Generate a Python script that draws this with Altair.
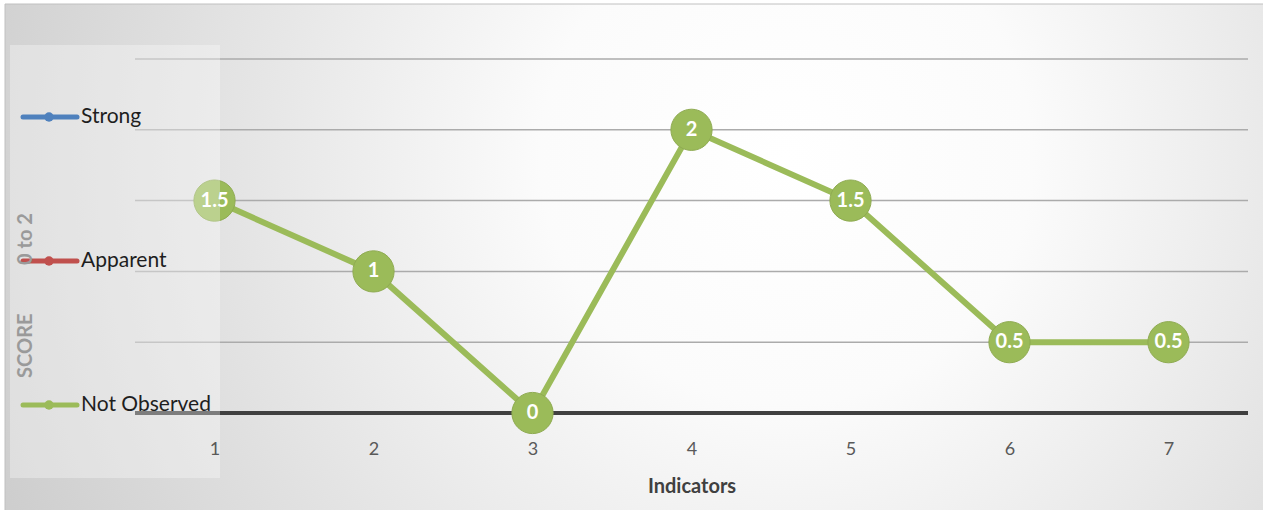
import altair as alt
import pandas as pd

# Data
indicators = [1, 2, 3, 4, 5, 6, 7]
scores = [1.5, 1, 0, 2, 1.5, 0.5, 0.5]
grid_values = [0.5, 1, 1.5, 2, 2.5]
zero_value = [0]
series = ["Strong", "Apparent", "Not Observed"]
series_colors = ["#4F81BD", "#C0504D", "#9BBB59"]
y_title = "SCORE" + "\u00a0" * 10 + "0 to 2"
x_title = "Indicators"

df = pd.DataFrame({"indicator": indicators, "score": scores,
                   "label": [f"{s:g}" for s in scores]})
grid_df = pd.DataFrame({"v": grid_values})
zero_df = pd.DataFrame({"v": zero_value})
leg_df = pd.DataFrame({"series": series, "color": series_colors})

FONT = "Lato"
W, H = 1113, 354
ydom = alt.Scale(domain=[0, 2.5], nice=False, zero=True)
xscale = alt.Scale(type="point", padding=0.5)
xaxis = alt.Axis(labelAngle=0, labelFontSize=18, labelColor="#595959",
                 labelFont=FONT, labelPadding=27, ticks=False, domain=False,
                 grid=False, titleFont=FONT, titleFontSize=20,
                 titleColor="#404040", titleFontWeight="bold",
                 titlePadding=18, zindex=1)
xenc = alt.X("indicator:O", scale=xscale, title=x_title, axis=xaxis)

base = alt.Chart(df)

bg = alt.Chart(pd.DataFrame({"a": [0]})).mark_rect(
    fill={"gradient": "radial", "x1": 0.62, "y1": 0.42, "r1": 0,
          "x2": 0.62, "y2": 0.42, "r2": 0.78,
          "stops": [{"offset": 0, "color": "#ffffff"},
                    {"offset": 0.25, "color": "#fbfbfb"},
                    {"offset": 1, "color": "#c4c4c4"}]},
    stroke="#c0c0c0", strokeWidth=1
).encode(x=alt.value(-130), x2=alt.value(1130), y=alt.value(-55), y2=alt.value(455))

grid = alt.Chart(grid_df).mark_rule(color="#ababab", strokeWidth=1.5).encode(
    y=alt.Y("v:Q", scale=ydom, axis=None)
)
zero = alt.Chart(zero_df).mark_rule(color="#404040", strokeWidth=4).encode(
    y=alt.Y("v:Q", scale=ydom, axis=None)
)

line = base.mark_line(color="#9BBB59", strokeWidth=6).encode(
    x=xenc,
    y=alt.Y("score:Q", scale=ydom, title=y_title,
            axis=alt.Axis(labels=False, ticks=False, domain=False, grid=False,
                          titleFont=FONT, titleFontSize=20, titleColor="#9a9a9a",
                          titleFontWeight="bold", titleX=-110, titleY=236,
                          titleBaseline="middle", titleAlign="center", zindex=1)),
)
pts = base.mark_point(filled=True, color="#9BBB59", size=1700, opacity=1,
                      stroke="#8fab52", strokeWidth=1).encode(
    x=xenc,
    y=alt.Y("score:Q", scale=ydom, axis=None),
)
labels = base.mark_text(color="white", font=FONT, fontWeight="bold", fontSize=20,
                        align="center", baseline="middle").encode(
    x=xenc,
    y=alt.Y("score:Q", scale=ydom, axis=None),
    text="label:N",
)

legbox = alt.Chart(pd.DataFrame({"a": [0]})).mark_rect(fill="white", opacity=0.32).encode(
    x=alt.value(-125), x2=alt.value(85), y=alt.value(-14), y2=alt.value(419)
)
leg_y = alt.Y("series:N", sort=series,
              scale=alt.Scale(type="point", domain=series, range=[58, 346], padding=0),
              axis=None)
leg_color = alt.Color("color:N", scale=None, legend=None)
leg_line = alt.Chart(leg_df).mark_rule(strokeWidth=5, strokeCap="round").encode(
    x=alt.value(-112), x2=alt.value(-58), y=leg_y, color=leg_color
)
leg_pt = alt.Chart(leg_df).mark_point(filled=True, size=90, opacity=1).encode(
    x=alt.value(-86), y=leg_y, color=leg_color
)
leg_txt = alt.Chart(leg_df).mark_text(align="left", baseline="middle", fontSize=21,
                                      font=FONT, color="#1e1e1e").encode(
    x=alt.value(-54), y=leg_y, text="series:N"
)

chart = alt.layer(bg, grid, zero, line, pts, labels, legbox, leg_line, leg_pt, leg_txt).resolve_scale(
    y="independent"
).properties(
    width=W, height=H, background="white",
    padding={"left": 135, "top": 59, "right": 15, "bottom": 97},
    autosize=alt.AutoSizeParams(type="none"),
).configure_view(stroke=None)

chart.save("out.html", embed_options={"renderer": "svg", "actions": False})
